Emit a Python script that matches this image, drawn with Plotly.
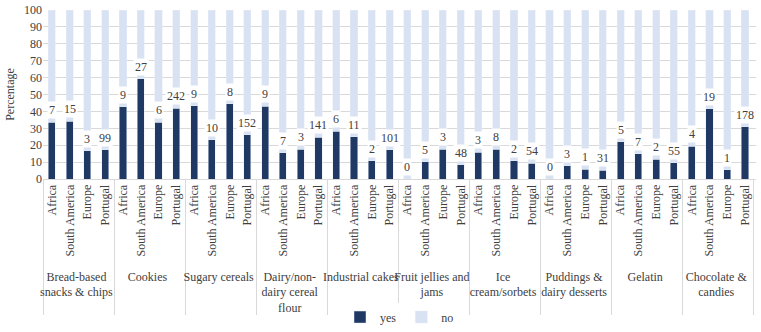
import plotly.graph_objects as go

groups = ["Bread-based<br>snacks & chips", "Cookies", "Sugary cereals",
          "Dairy/non-<br>dairy cereal<br>flour", "Industrial cakes",
          "Fruit jellies and<br>jams", "Ice<br>cream/sorbets",
          "Puddings &<br>dairy desserts", "Gelatin", "Chocolate &<br>candies"]
regions = ["Africa", "South America", "Europe", "Portugal"]

yes_pct = [
    33.7, 34.1, 16.8, 17.2,
    42.8, 59.4, 33.5, 41.8,
    43.2, 23.1, 44.6, 26.2,
    43.0, 15.4, 17.6, 24.7,
    28.4, 25.0, 10.8, 17.2,
    0.0, 10.3, 17.6, 8.5,
    15.8, 17.6, 10.8, 9.3,
    0.0, 7.9, 5.9, 5.3,
    22.1, 15.0, 11.8, 9.5,
    19.3, 41.6, 5.5, 30.8,
]
counts = [
    7, 15, 3, 99,
    9, 27, 6, 242,
    9, 10, 8, 152,
    9, 7, 3, 141,
    6, 11, 2, 101,
    0, 5, 3, 48,
    3, 8, 2, 54,
    0, 3, 1, 31,
    5, 7, 2, 55,
    4, 19, 1, 178,
]
no_pct = [100 - v for v in yes_pct]

xg = [g for g in groups for _ in regions]
xr = [r for _ in groups for r in regions]

FONT = "'Liberation Serif', 'DejaVu Serif', serif"
DARK = "#1f3864"
LIGHT = "#d9e2f3"
TXT = "#404040"

fig = go.Figure()
fig.add_trace(go.Bar(x=[xg, xr], y=yes_pct, name="yes", marker_color=DARK))
fig.add_trace(go.Bar(x=[xg, xr], y=no_pct, name="no", marker_color=LIGHT))

for i, (v, c) in enumerate(zip(yes_pct, counts)):
    fig.add_annotation(x=i, y=v, text=str(c), showarrow=False, yanchor="bottom",
                       yshift=3, bgcolor="white", borderpad=1,
                       font=dict(family=FONT, size=12, color=TXT))

fig.update_layout(
    width=761, height=332,
    margin=dict(l=43, r=5, t=10, b=153, autoexpand=False),
    barmode="stack", bargap=0.6,
    plot_bgcolor="white", paper_bgcolor="white",
    font=dict(family=FONT, size=12, color=TXT),
    legend=dict(orientation="h", x=0.5, xanchor="center", yref="container",
                y=0.045, yanchor="middle",
                font=dict(family=FONT, size=12, color=TXT), traceorder="normal",
                itemwidth=30),
    showlegend=True,
)
fig.update_yaxes(range=[0, 100], dtick=10, showgrid=True, gridcolor="#d9d9d9",
                 zeroline=False, showline=False, ticks="",
                 title=dict(text="Percentage", font=dict(family=FONT, size=12, color=TXT), standoff=6),
                 tickfont=dict(family=FONT, size=12, color=TXT))
fig.update_xaxes(tickangle=-90, showline=True, linecolor="#d9d9d9", showdividers=True,
                 dividercolor="#d9d9d9", dividerwidth=1, ticks="",
                 tickfont=dict(family=FONT, size=12, color=TXT))

fig.write_html("out.html")
